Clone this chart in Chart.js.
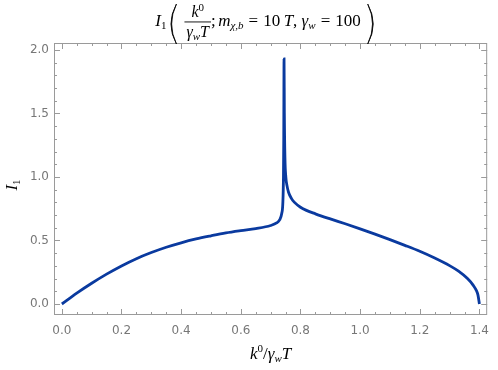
<!DOCTYPE html>
<html>
<head>
<meta charset="utf-8">
<script src="https://cdn.jsdelivr.net/npm/chart.js@4"></script>
<style>
  html, body { margin: 0; padding: 0; background: #fff; }
  #wrap { width: 498px; height: 370px; position: relative; }
</style>
</head>
<body>
<div id="wrap"><canvas id="chart"></canvas></div>
<script>
// ===============================
// Data
// ===============================
const kValues = [
  0, 0.05, 0.1, 0.15, 0.2, 0.25, 0.3, 0.35, 0.4, 0.45, 0.5, 0.55, 0.6, 0.65,
  0.7, 0.72, 0.73, 0.737, 0.741, 0.743, 0.744, 0.745, 0.746, 0.748, 0.751,
  0.755, 0.76, 0.77, 0.78, 0.8, 0.82, 0.85, 0.9, 0.95, 1.0, 1.05, 1.1, 1.15,
  1.2, 1.25, 1.3, 1.33, 1.36, 1.38, 1.39, 1.395, 1.4
];
const iValues = [
  0, 0.085, 0.163, 0.235, 0.3, 0.357, 0.405, 0.447, 0.482, 0.512, 0.537, 0.56,
  0.578, 0.594, 0.618, 0.638, 0.662, 0.71, 0.8, 1.0, 1.3, 1.93, 1.5, 1.15, 1.0,
  0.93, 0.88, 0.83, 0.8, 0.762, 0.737, 0.71, 0.67, 0.632, 0.592, 0.55, 0.507,
  0.462, 0.415, 0.362, 0.302, 0.258, 0.2, 0.145, 0.105, 0.072, 0
];
const xMajorTicks = [0, 0.2, 0.4, 0.6, 0.8, 1.0, 1.2, 1.4];
const yMajorTicks = [0, 0.5, 1.0, 1.5, 2.0];

const points = kValues.map((k, i) => ({ x: k, y: iValues[i] }));

const lineColor = "#0a3a9f";
const frameColor = "#9a9a9a";
const tickLabelColor = "#777777";
const serif = "'Liberation Serif', 'DejaVu Serif', serif";

// ===============================
// Frame with inward ticks on all sides
// ===============================
const framePlugin = {
  id: "frame",
  afterDatasetsDraw(chart) {
    const { ctx, chartArea: a, scales } = chart;
    const xs = scales.x, ys = scales.y;
    ctx.save();
    ctx.strokeStyle = frameColor;
    ctx.lineWidth = 1;
    ctx.strokeRect(a.left + 0.5, a.top + 0.5, a.right - a.left - 1, a.bottom - a.top - 1);

    // x ticks: major 0.2, minor 0.05
    for (let n = 0; n <= 28; n++) {
      const v = n * 0.05;
      const px = Math.round(xs.getPixelForValue(v)) + 0.5;
      if (px < a.left || px > a.right) continue;
      const len = n % 4 === 0 ? 6 : 3;
      ctx.beginPath();
      ctx.moveTo(px, a.bottom); ctx.lineTo(px, a.bottom - len);
      ctx.moveTo(px, a.top); ctx.lineTo(px, a.top + len);
      ctx.stroke();
    }
    // y ticks: major 0.5, minor 0.1
    for (let n = 0; n <= 20; n++) {
      const v = n * 0.1;
      const py = Math.round(ys.getPixelForValue(v)) + 0.5;
      if (py < a.top || py > a.bottom) continue;
      const len = n % 5 === 0 ? 6 : 3;
      ctx.beginPath();
      ctx.moveTo(a.left, py); ctx.lineTo(a.left + len, py);
      ctx.moveTo(a.right, py); ctx.lineTo(a.right - len, py);
      ctx.stroke();
    }
    ctx.restore();
  }
};

// ===============================
// Math-style title and axis labels
// ===============================
function drawRun(ctx, x, y, parts) {
  // parts: [text, size, italic, dy]
  parts.forEach(([text, size, italic, dy]) => {
    ctx.font = `${italic ? "italic " : ""}${size}px ${serif}`;
    ctx.fillText(text, x, y + (dy || 0));
    x += ctx.measureText(text).width;
  });
  return x;
}

function runWidth(ctx, parts) {
  let w = 0;
  parts.forEach(([text, size, italic]) => {
    ctx.font = `${italic ? "italic " : ""}${size}px ${serif}`;
    w += ctx.measureText(text).width;
  });
  return w;
}

function drawParen(ctx, x, top, bottom, left) {
  const mid = (top + bottom) / 2;
  const bulge = left ? -5.5 : 5.5;
  ctx.beginPath();
  ctx.moveTo(x, top);
  ctx.quadraticCurveTo(x + bulge * 2, mid, x, bottom);
  ctx.quadraticCurveTo(x + bulge * 2 + (left ? 1.4 : -1.4), mid, x, top);
  ctx.fill();
  ctx.stroke();
}

const textPlugin = {
  id: "mathText",
  afterDraw(chart) {
    const ctx = chart.ctx;
    ctx.save();
    ctx.fillStyle = "#000";
    ctx.strokeStyle = "#000";
    ctx.lineWidth = 0.8;
    ctx.textBaseline = "alphabetic";

    // Title pieces
    const head = [["I", 17, true], ["1", 11, false, 3]];
    const num = [["k", 16, true], ["0", 11, false, -6]];
    const den = [["γ", 16, true], ["w", 11, true, 3], ["T", 16, true]];
    const tail = [
      [";", 17, false], [" ", 10, false], ["m", 17, true], ["χ,b", 11, true, 3],
      [" ", 20, false], ["=", 17, false], [" ", 20, false], ["10", 17, false],
      [" ", 14, false], ["T", 17, true],
      [", ", 17, false], ["γ", 17, true], ["w", 11, true, 3],
      [" ", 20, false], ["=", 17, false], [" ", 20, false], ["100", 17, false]
    ];
    const headW = runWidth(ctx, head);
    const fracW = Math.max(runWidth(ctx, num), runWidth(ctx, den)) + 4;
    const tailW = runWidth(ctx, tail);
    const parenGap = 13;
    const total = headW + 4 + parenGap + fracW + tailW + parenGap;
    let x = 264 - total / 2;
    const base = 26;

    x = drawRun(ctx, x, base, head) + 5;
    drawParen(ctx, x + 5, 4, 44, true);
    x += parenGap;
    const fracL = x;
    drawRun(ctx, fracL + (fracW - runWidth(ctx, num)) / 2, 17, num);
    drawRun(ctx, fracL + (fracW - runWidth(ctx, den)) / 2, 37, den);
    ctx.fillRect(fracL, 21.5, fracW, 0.9);
    x += fracW;
    x = drawRun(ctx, x, base, tail);
    drawParen(ctx, x + 7, 4, 44, false);

    // x-axis label
    const xl = [["k", 17, true], ["0", 11, false, -7], ["/", 17, false],
                ["γ", 17, true], ["w", 11, true, 3], ["T", 17, true]];
    const a = chart.chartArea;
    const cx = (a.left + a.right) / 2;
    drawRun(ctx, cx - runWidth(ctx, xl) / 2, 359, xl);

    // y-axis label (rotated)
    ctx.translate(17, 185);
    ctx.rotate(-Math.PI / 2);
    const yl = [["I", 17, true], ["1", 11, false, 3]];
    drawRun(ctx, -runWidth(ctx, yl) / 2, 0, yl);
    ctx.restore();
  }
};

// ===============================
// Chart
// ===============================
const ctx = document.getElementById("chart").getContext("2d");
new Chart(ctx, {
  type: "scatter",
  data: {
    datasets: [{
      data: points,
      showLine: true,
      borderColor: lineColor,
      borderWidth: 2.8,
      pointRadius: 0,
      cubicInterpolationMode: "monotone",
      fill: false,
    }],
  },
  options: {
    responsive: true,
    maintainAspectRatio: false,
    animation: false,
    layout: { padding: { top: 43, right: 2, left: 0, bottom: 0 } },
    plugins: { legend: { display: false }, tooltip: { enabled: false } },
    scales: {
      x: {
        type: "linear",
        min: -0.0263,
        max: 1.426,
        grid: { display: false, drawTicks: false },
        border: { display: false },
        afterBuildTicks: (s) => { s.ticks = xMajorTicks.map((v) => ({ value: v })); },
        afterFit: (s) => { s.height = 55; },
        ticks: {
          padding: 9,
          color: tickLabelColor,
          font: { family: "'DejaVu Sans', sans-serif", size: 12 },
          callback: (v) => v.toFixed(1),
          maxRotation: 0,
        },
      },
      y: {
        type: "linear",
        min: -0.0866,
        max: 2.055,
        grid: { display: false, drawTicks: false },
        border: { display: false },
        afterBuildTicks: (s) => { s.ticks = yMajorTicks.map((v) => ({ value: v })); },
        afterFit: (s) => { s.width = 54; },
        ticks: {
          padding: 5,
          color: tickLabelColor,
          font: { family: "'DejaVu Sans', sans-serif", size: 12 },
          callback: (v) => v.toFixed(1),
        },
      },
    },
  },
  plugins: [framePlugin, textPlugin],
});
</script>
</body>
</html>
